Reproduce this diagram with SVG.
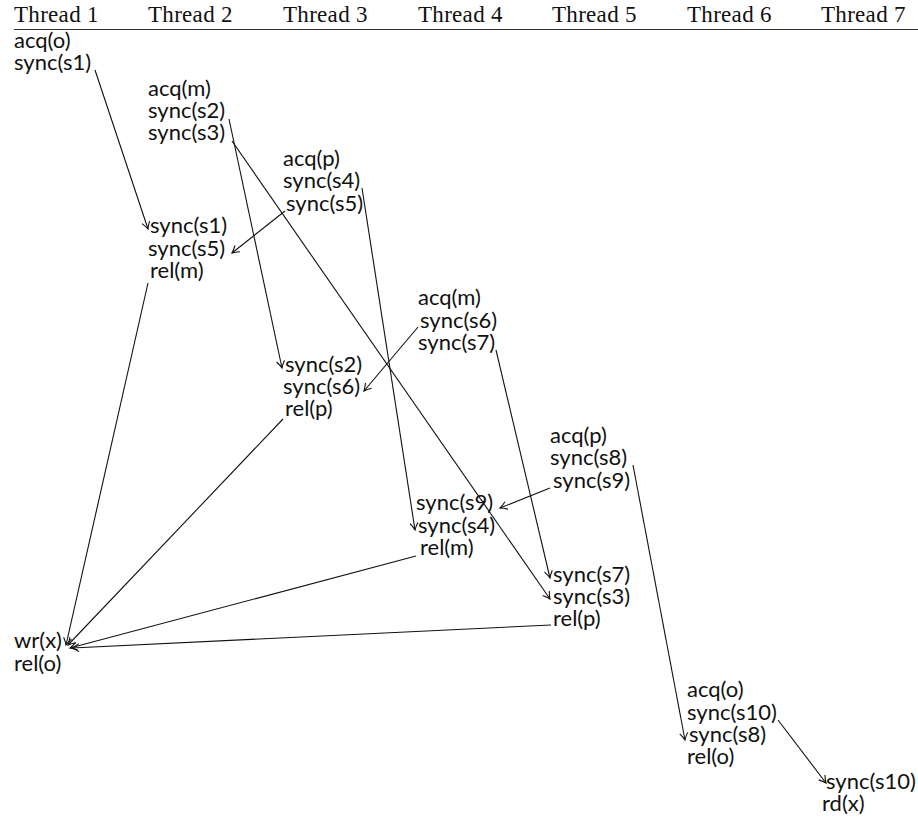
<svg xmlns="http://www.w3.org/2000/svg" width="918" height="818" viewBox="0 0 918 818">
<style>
.h{font-family:"Liberation Serif","Times New Roman",serif;font-size:23px;letter-spacing:0.3px;fill:#111}
.t{font-family:Lato,"Open Sans",sans-serif;font-size:22px;fill:#111}
.c line{stroke:#111;stroke-width:1.1;fill:none;marker-end:url(#ah)}
</style>
<defs>
<marker id="ah" markerUnits="userSpaceOnUse" markerWidth="12" markerHeight="12" viewBox="-9 -6 11 12" refX="0" refY="0" orient="auto">
<path d="M-7,-4 Q-3,-1.2 0,0 Q-3,1.2 -7,4" fill="none" stroke="#111" stroke-width="1.1"/>
</marker>
</defs>
<rect width="918" height="818" fill="#fff"/>
<g id="header">
<text class="h" x="14" y="21.5">Thread 1</text>
<text class="h" x="148" y="21.5">Thread 2</text>
<text class="h" x="283" y="21.5">Thread 3</text>
<text class="h" x="418" y="21.5">Thread 4</text>
<text class="h" x="552" y="21.5">Thread 5</text>
<text class="h" x="687" y="21.5">Thread 6</text>
<text class="h" x="821" y="21.5">Thread 7</text>
<line x1="14" y1="29.5" x2="918" y2="29.5" stroke="#333" stroke-width="1"/>
</g>
<g id="t1a" class="t">
<text x="14" y="47.5">acq(o)</text>
<text x="14" y="69.5">sync(s1)</text>
</g>
<g id="t2a" class="t">
<text x="148" y="95.5">acq(m)</text>
<text x="148" y="117.5">sync(s2)</text>
<text x="148" y="140">sync(s3)</text>
</g>
<g id="t3a" class="t">
<text x="283" y="165.5">acq(p)</text>
<text x="283" y="188">sync(s4)</text>
<text x="286" y="210.5">sync(s5)</text>
</g>
<g id="t2b" class="t">
<text x="150" y="233">sync(s1)</text>
<text x="148" y="255.5">sync(s5)</text>
<text x="150" y="278">rel(m)</text>
</g>
<g id="t4a" class="t">
<text x="418" y="305">acq(m)</text>
<text x="420" y="327.5">sync(s6)</text>
<text x="418" y="349.5">sync(s7)</text>
</g>
<g id="t3b" class="t">
<text x="285" y="371.5">sync(s2)</text>
<text x="283" y="393.5">sync(s6)</text>
<text x="285" y="416">rel(p)</text>
</g>
<g id="t5a" class="t">
<text x="550" y="443">acq(p)</text>
<text x="550" y="465">sync(s8)</text>
<text x="553" y="488">sync(s9)</text>
</g>
<g id="t4b" class="t">
<text x="416" y="510">sync(s9)</text>
<text x="418" y="533">sync(s4)</text>
<text x="420" y="555">rel(m)</text>
</g>
<g id="t5b" class="t">
<text x="553" y="582">sync(s7)</text>
<text x="553" y="604">sync(s3)</text>
<text x="553" y="626">rel(p)</text>
</g>
<g id="t1b" class="t">
<text x="14" y="648">wr(x)</text>
<text x="14" y="671">rel(o)</text>
</g>
<g id="t6" class="t">
<text x="687" y="697">acq(o)</text>
<text x="687" y="720">sync(s10)</text>
<text x="689" y="742">sync(s8)</text>
<text x="687" y="764">rel(o)</text>
</g>
<g id="t7" class="t">
<text x="826" y="789">sync(s10)</text>
<text x="822" y="811">rd(x)</text>
</g>
<g id="connectors" class="c">
<line x1="95" y1="70" x2="148" y2="229"/>
<line x1="229" y1="119" x2="282" y2="368"/>
<line x1="232" y1="141" x2="550" y2="599"/>
<line x1="362" y1="188" x2="415" y2="530"/>
<line x1="285" y1="211" x2="232" y2="253"/>
<line x1="418" y1="327" x2="364" y2="391"/>
<line x1="496" y1="350" x2="550" y2="578"/>
<line x1="633" y1="465" x2="685" y2="740"/>
<line x1="550" y1="488" x2="500" y2="508"/>
<line x1="778" y1="720" x2="826" y2="783"/>
<line x1="148" y1="283" x2="66" y2="645"/>
<line x1="283" y1="419" x2="68" y2="645"/>
<line x1="416" y1="556" x2="70" y2="648"/>
<line x1="551" y1="625" x2="72" y2="648"/>
</g>
</svg>
